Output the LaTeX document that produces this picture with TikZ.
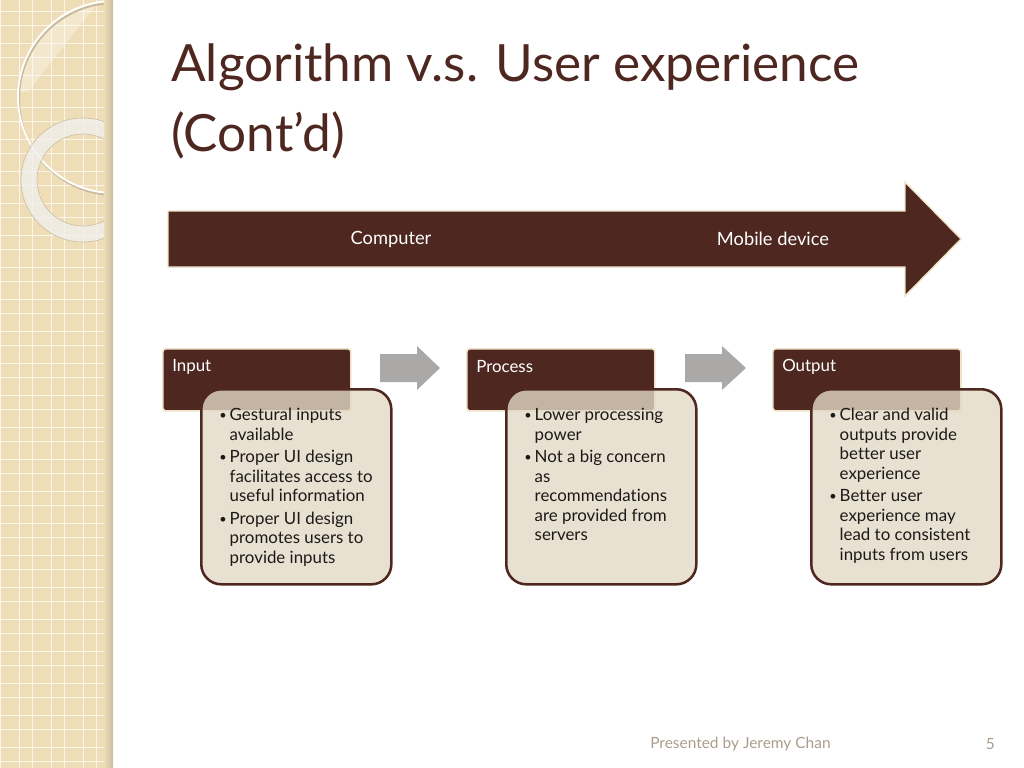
\documentclass[tikz,border=0pt]{standalone}
\usepackage{fontspec}
\setmainfont{Lato}[Ligatures=NoCommon]
\usetikzlibrary{positioning, calc}
\definecolor{cbrown}{HTML}{4E2820}
\definecolor{cbeige}{HTML}{E2D8C4}
\definecolor{ccream}{HTML}{EFE4C9}
\definecolor{cstrip}{HTML}{EFDDB8}
\definecolor{cedge}{HTML}{C9BC9E}
\definecolor{cgrey}{HTML}{ABA8A8}
\definecolor{cfoot}{HTML}{A89E8A}
\definecolor{ctext}{HTML}{1C1A18}
\newcommand{\ind}{\hspace*{7.4pt}}
\newcommand{\bul}{\makebox[7.4pt][l]{\raisebox{0.1ex}{\fontsize{9}{9}\selectfont\textbullet}}}
\tikzset{
  every picture/.style={x=0.025cm, y=-0.025cm},
  title/.style={font=\fontsize{36.5}{44}\selectfont, text=cbrown, inner sep=0pt},
  bigarrow/.style={draw=ccream, line width=1pt, fill=cbrown},
  flowtext/.style={font=\fontsize{13}{15}\selectfont, text=white},
  headbox/.style={draw=ccream, line width=1.2pt, fill=cbrown, rounded corners=2pt,
    minimum width=4.7cm, minimum height=1.55cm, inner sep=0pt},
  headtext/.style={font=\fontsize{12}{14}\selectfont, text=white, inner sep=0pt},
  listbox/.style={draw=cbrown, line width=1.8pt, fill=cbeige, fill opacity=0.8,
    rounded corners=0.5cm, minimum width=4.75cm, minimum height=4.875cm, inner sep=0pt},
  listtext/.style={font=\fontsize{12}{13.9}\selectfont, text=ctext, align=left, inner sep=0pt},
  steparrow/.style={fill=cgrey},
  gridline/.style={draw=white, line width=0.5pt, opacity=0.7},
  foot/.style={font=\fontsize{11}{13}\selectfont, text=cfoot, inner sep=0pt},
}

\begin{document}
\begin{tikzpicture}
  \useasboundingbox (0,0) rectangle (1024,768);
  % side strip
  \begin{scope}
    \clip (0,0) rectangle (113,768);
    \fill[cstrip] (0,0) rectangle (113,768);
    \foreach \gx in {0,32,64,96} {
      \draw[gridline] (\gx,0) -- (\gx,768);
      \draw[gridline] (\gx+19,0) -- (\gx+19,768);
    }
    \foreach \gy in {0,32,...,768} {
      \draw[gridline] (0,\gy+11) -- (113,\gy+11);
      \draw[gridline] (0,\gy+25) -- (113,\gy+25);
    }
    \begin{scope}
      \clip (114,97) circle (2.4cm);
      \fill[white, opacity=0.3] (0,0) -- (100,0) -- (28,92) -- (0,92) -- cycle;
    \end{scope}
    \draw[cedge, line width=1.4pt] (115,99) circle (2.4cm);
    \draw[white, line width=1.3pt] (114,97) circle (2.4cm);
    \fill[even odd rule, fill=white!88!gray, opacity=0.75] (83,180) circle (1.55cm) (83,180) circle (1.15cm);
    \draw[cedge, line width=0.4pt] (83,180) circle (1.55cm) (83,180) circle (1.15cm);
    \shade[left color=cstrip, right color=cedge] (104,0) rectangle (113,768);
  \end{scope}
  % title
  \node[title, anchor=base west] (title1) at (171,82) {Algorithm v.s. User experience};
  \node[title, anchor=base west] (title2) at (171,152) {(Cont’d)};
  % flow arrow
  \draw[bigarrow] (168,211) -- (905,211) -- (905,182) -- (961,239) -- (905,296)
    -- (905,267) -- (168,267) -- cycle;
  \node[flowtext] (comp) at (391,239) {Computer};
  \node[flowtext] (mobile) at (773,239) {Mobile device};
  % input
  \node[headbox, anchor=north west] (inhead) at (162,348) {};
  \node[headtext, anchor=west] (intitle) at (172,367) {Input};
  \node[listbox, anchor=north west] (inbox) at (200,388) {};
  \node[listtext, anchor=north west] (inlist) at (219,408) {\bul Gestural inputs\\
    \ind available\\[2pt]
    \bul Proper UI design\\
    \ind facilitates access to\\
    \ind useful information\\[2pt]
    \bul Proper UI design\\
    \ind promotes users to\\
    \ind provide inputs};
  \fill[steparrow] (380,354) -- (417,354) -- (417,346) -- (440,368) -- (417,390) -- (417,382) -- (380,382) -- cycle;
  % process
  \node[headbox, anchor=north west] (prhead) at (466,348) {};
  \node[headtext, anchor=west] (prtitle) at (476,367) {Process};
  \node[listbox, anchor=north west] (prbox) at (505,388) {};
  \node[listtext, anchor=north west] (prlist) at (524,408) {\bul Lower processing\\
    \ind power\\[2pt]
    \bul Not a big concern\\
    \ind as\\
    \ind recommendations\\
    \ind are provided from\\
    \ind servers};
  \fill[steparrow] (685,354) -- (722,354) -- (722,346) -- (746,368) -- (722,390) -- (722,382) -- (685,382) -- cycle;
  % output
  \node[headbox, anchor=north west] (outhead) at (772,348) {};
  \node[headtext, anchor=west] (outtitle) at (782,367) {Output};
  \node[listbox, anchor=north west] (outbox) at (810,388) {};
  \node[listtext, anchor=north west] (outlist) at (829,408) {\bul Clear and valid\\
    \ind outputs provide\\
    \ind better user\\
    \ind experience\\[2pt]
    \bul Better user\\
    \ind experience may\\
    \ind lead to consistent\\
    \ind inputs from users};
  % footer
  \node[foot, anchor=west] (credit) at (650,744) {Presented by Jeremy Chan};
  \node[foot, anchor=east] (pagenum) at (995,744) {5};
\end{tikzpicture}
\end{document}
